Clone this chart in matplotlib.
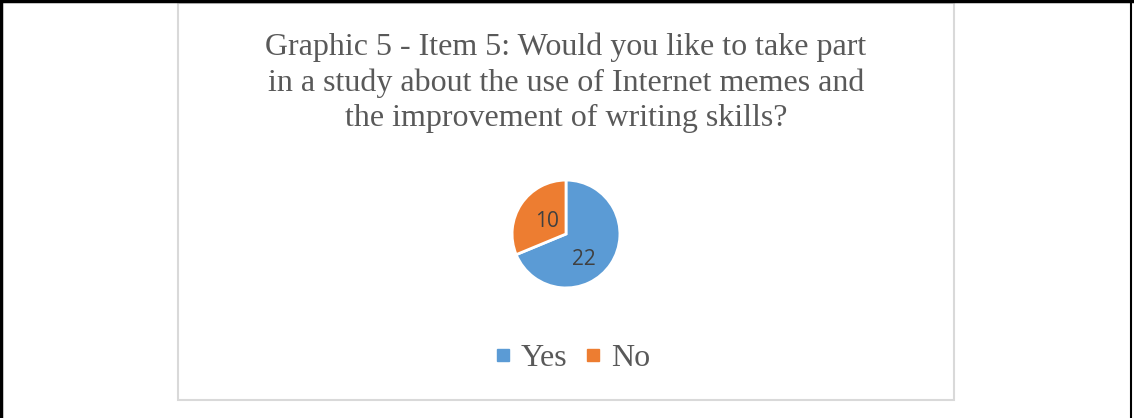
import matplotlib
matplotlib.use("Agg")
import matplotlib.pyplot as plt
from matplotlib.patches import Rectangle
from matplotlib.lines import Line2D

categories = ["Yes", "No"]
values = [22, 10]
colors = ["#5B9BD5", "#ED7D31"]
title = ("Graphic 5 - Item 5: Would you like to take part\n"
         "in a study about the use of Internet memes and\n"
         "the improvement of writing skills?")

W, H = 1134, 418
fig = plt.figure(figsize=(W / 100, H / 100), dpi=100)

# outer black frame (no bottom edge visible)
fig.add_artist(Line2D([1 / W, 1 / W], [0, 1], color="black", lw=2.5, transform=fig.transFigure))
fig.add_artist(Line2D([1131 / W, 1131 / W], [0, 1], color="black", lw=1.5, transform=fig.transFigure))
fig.add_artist(Line2D([0, 1], [1 - 1 / H, 1 - 1 / H], color="black", lw=2.5, transform=fig.transFigure))

# inner chart box
x0, y0, x1, y1 = 178, 3, 954, 400
fig.add_artist(Rectangle((x0 / W, 1 - y1 / H), (x1 - x0) / W, (y1 - y0) / H,
                         transform=fig.transFigure, fill=False,
                         edgecolor="#D9D9D9", lw=1.5))

fig.text(566 / W, 1 - 83 / H, title, ha="center", va="center",
         fontsize=23, family="Liberation Serif", color="#595959",
         linespacing=1.28)

cx, cy, r = 566, 234, 55
ax = fig.add_axes([(cx - r) / W, 1 - (cy + r) / H, 2 * r / W, 2 * r / H])
total = sum(values)
wedges, texts, autotexts = ax.pie(
    values, colors=colors, startangle=90, counterclock=False,
    autopct=lambda p: f"{round(p * total / 100)}", pctdistance=0.48,
    wedgeprops=dict(edgecolor="white", linewidth=2),
    textprops=dict(fontsize=15, color="#404040", family="Open Sans"))
# nudge label placement toward the reference's spots
autotexts[0].set_position((0.33, -0.47))
autotexts[1].set_position((-0.35, 0.23))
ax.set_xlim(-1.02, 1.02)
ax.set_ylim(-1.02, 1.02)
ax.set_aspect("equal")
ax.axis("off")

handles = [Line2D([], [], marker="s", linestyle="none", markersize=8.5,
                  markerfacecolor=c, markeredgecolor=c) for c in colors]
fig.legend(handles, categories, loc="center", bbox_to_anchor=(571 / W, 1 - 358 / H),
           ncol=2, frameon=False, handletextpad=0.2,
           columnspacing=0.45, handlelength=0.7,
           prop=dict(family="Liberation Serif", size=23))
for t in fig.legends[0].get_texts():
    t.set_color("#595959")

fig.savefig("out.png", dpi=100)
